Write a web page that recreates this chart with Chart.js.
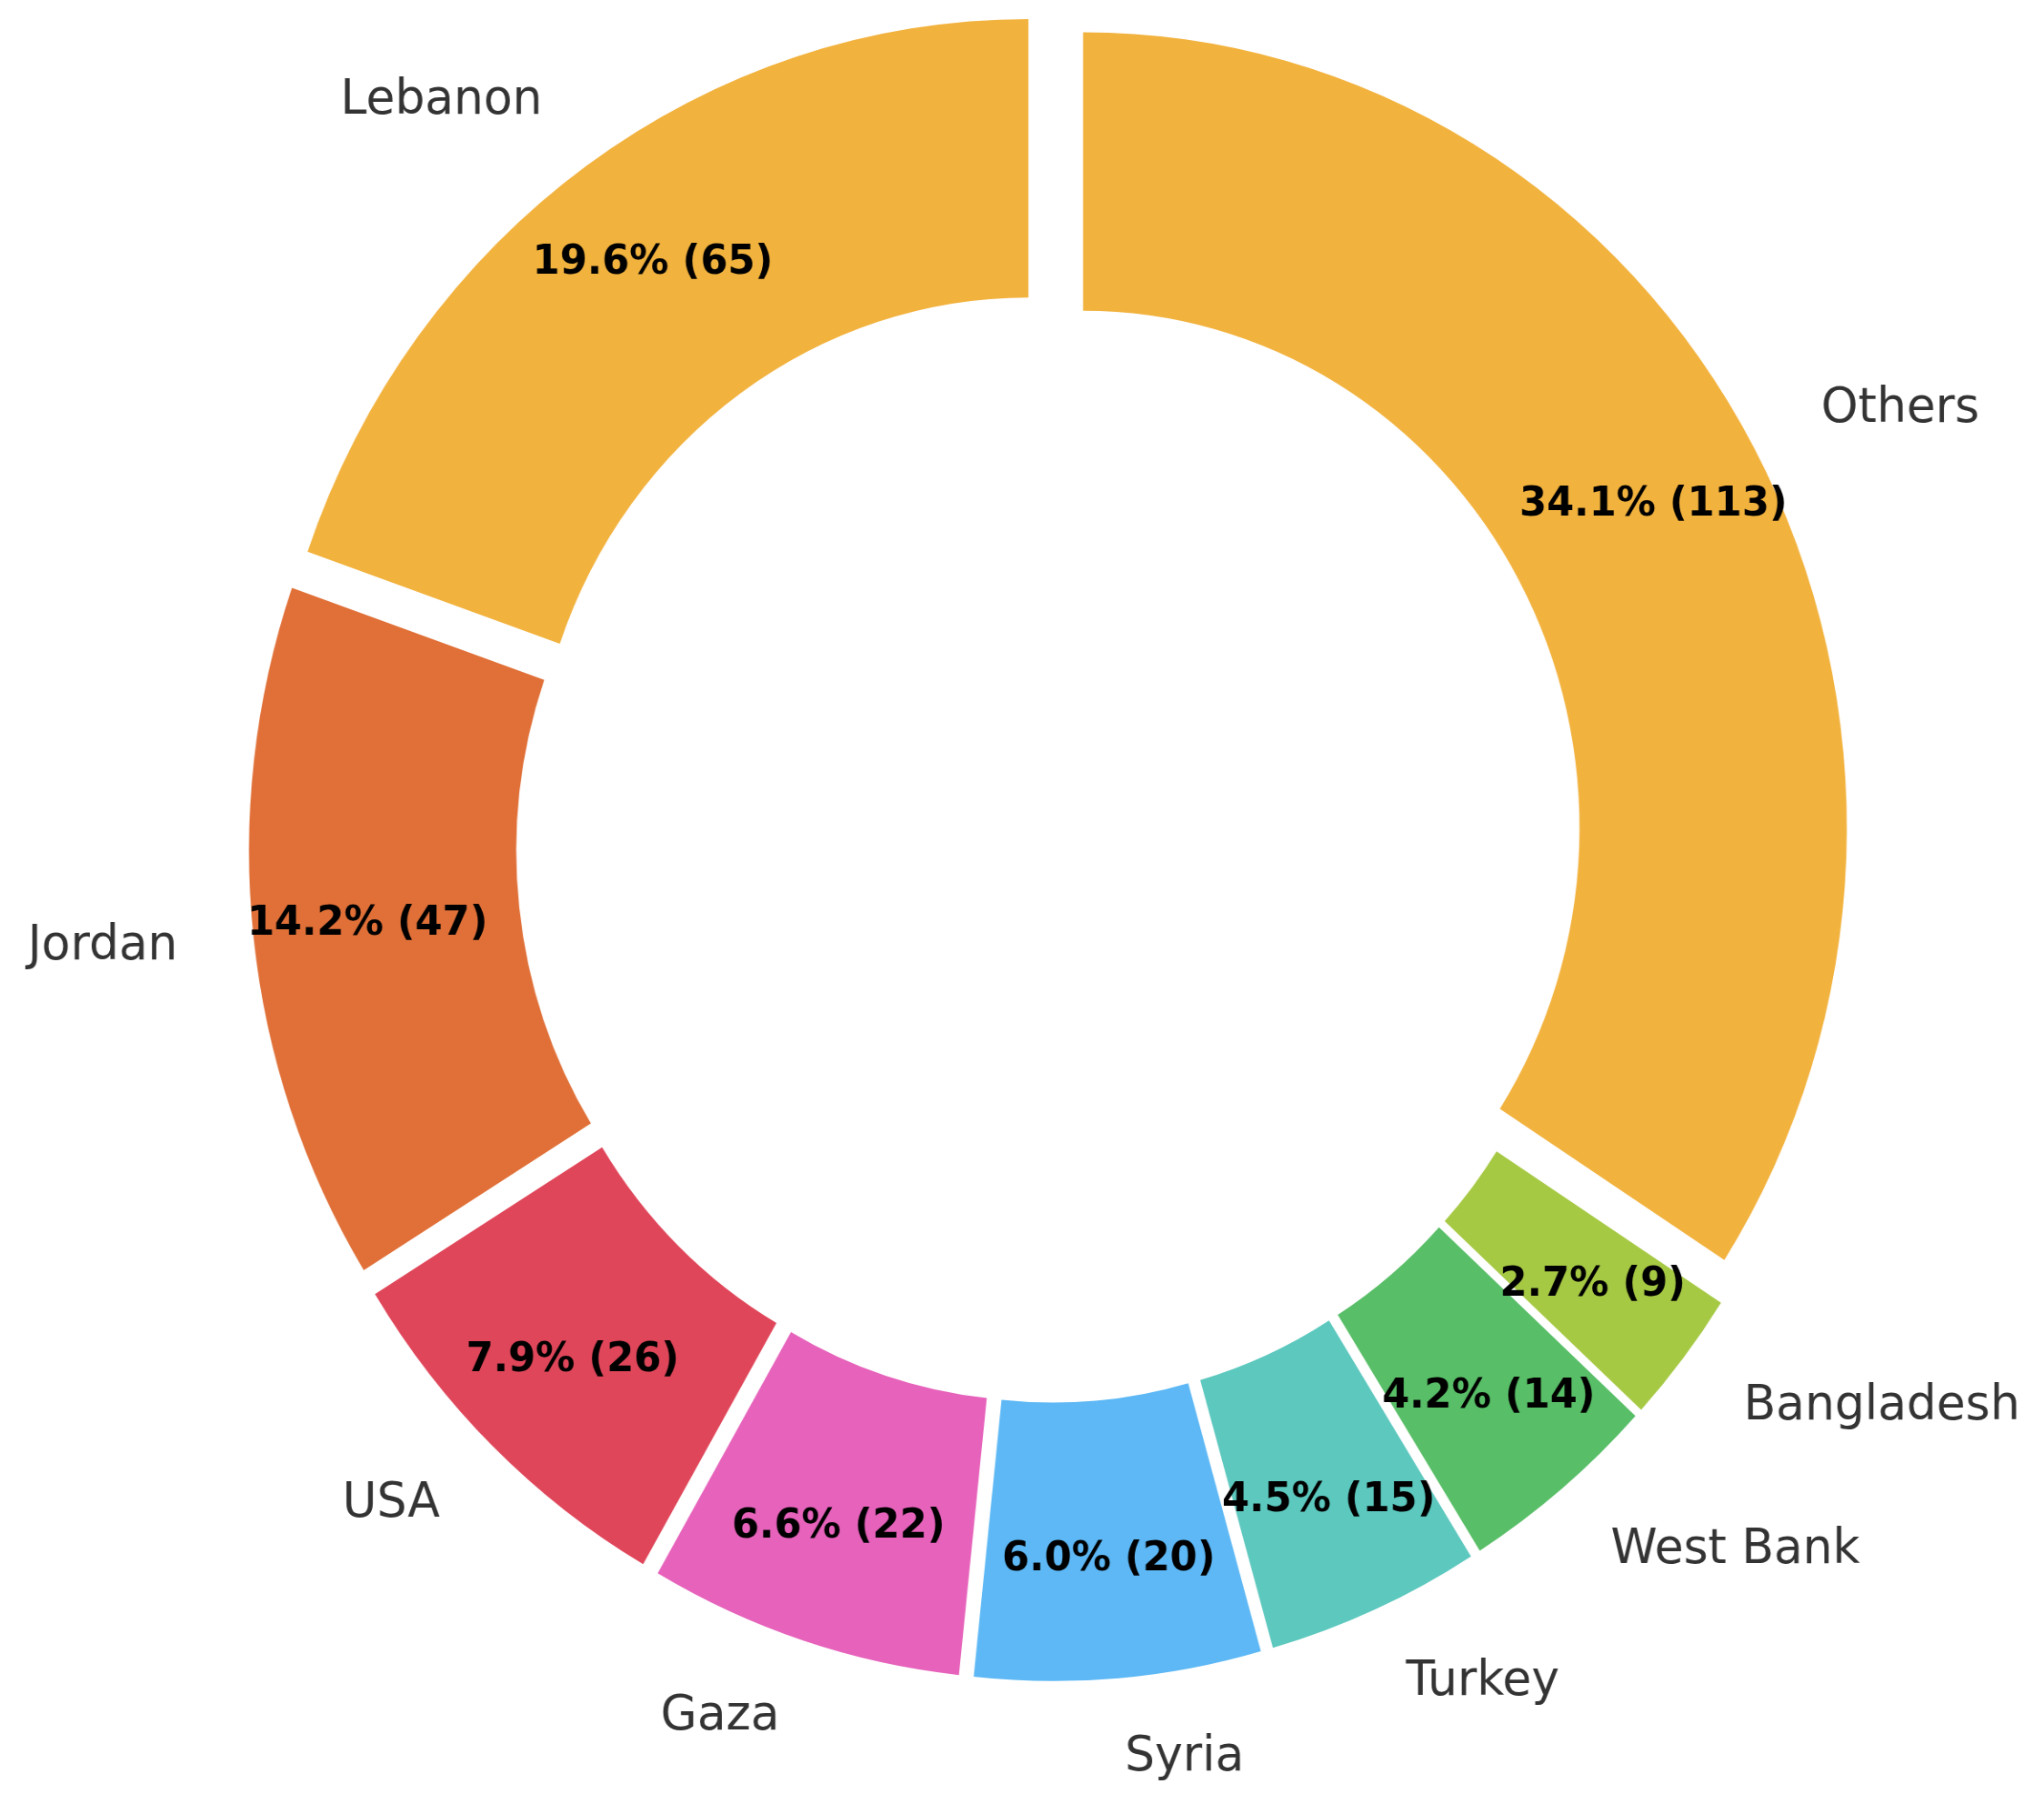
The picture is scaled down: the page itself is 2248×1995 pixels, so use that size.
<!DOCTYPE html>
<html>
<head>
<meta charset="utf-8">
<script src="https://cdn.jsdelivr.net/npm/chart.js@4/dist/chart.umd.min.js"></script>
<style>
  html, body { margin: 0; padding: 0; background: #ffffff; overflow: hidden; }
  #wrap { width: 2342px; height: 1995px; transform: scaleX(0.96); transform-origin: 0 0; }
</style>
</head>
<body>
<div id="wrap"><canvas id="donut" width="2342" height="1995"></canvas></div>
<script>
// matplotlib order (counter-clockwise from 12 o'clock)
const countries = ['Lebanon', 'Jordan', 'USA', 'Gaza', 'Syria', 'Turkey', 'West Bank', 'Bangladesh', 'Others'];
const counts = [65, 47, 26, 22, 20, 15, 14, 9, 113];
const colors = ['#f2b23e', '#e07038', '#e0465a', '#e662bb', '#5db8f5', '#5cc8be', '#58be67', '#a6c944', '#f2b23e'];

// chart.js goes clockwise, so flip the lists
const labelsCW = countries.slice().reverse();
const countsCW = counts.slice().reverse();
const colorsCW = colors.slice().reverse();
const total = counts.reduce((a, b) => a + b, 0);

const EXPLODE = 43;      // px every slice is pushed out
const PCT_DIST = 0.85;   // fraction of outer radius
const LABEL_DIST = 1.1;

//draws each arc shifted out along its middle angle
const explodePlugin = {
    id: 'explode',
    beforeDatasetDraw(chart, args) {
        const ctx = chart.ctx;
        args.meta.data.forEach((arc) => {
            const mid = (arc.startAngle + arc.endAngle) / 2;
            ctx.save();
            ctx.translate(Math.cos(mid) * EXPLODE, Math.sin(mid) * EXPLODE);
            arc.draw(ctx);
            ctx.restore();
        });
        return false;
    }
};

//country names outside + percent labels inside the ring
const sliceLabels = {
    id: 'sliceLabels',
    afterDatasetsDraw(chart) {
        const ctx = chart.ctx;
        const meta = chart.getDatasetMeta(0);
        meta.data.forEach((arc, i) => {
            const mid = (arc.startAngle + arc.endAngle) / 2;
            const c = Math.cos(mid), s = Math.sin(mid);
            const ox = arc.x + c * EXPLODE;
            const oy = arc.y + s * EXPLODE;
            const R = arc.outerRadius;

            ctx.save();
            ctx.textBaseline = 'middle';

            ctx.font = '54px "DejaVu Sans"';
            ctx.fillStyle = '#333333';
            ctx.textAlign = c >= 0 ? 'left' : 'right';
            ctx.fillText(labelsCW[i], ox + c * R * LABEL_DIST, oy + s * R * LABEL_DIST);

            const v = countsCW[i];
            const pct = (v / total * 100).toFixed(1) + '% (' + v + ')';
            ctx.font = 'bold 45px "DejaVu Sans"';
            ctx.fillStyle = '#000000';
            ctx.textAlign = 'center';
            ctx.fillText(pct, ox + c * R * PCT_DIST, oy + s * R * PCT_DIST);
            ctx.restore();
        });
    }
};

const ctx = document.getElementById('donut').getContext('2d');
new Chart(ctx, {
    type: 'doughnut',
    data: {
        labels: labelsCW,
        datasets: [{
            data: countsCW,
            backgroundColor: colorsCW,
            borderWidth: 0
        }]
    },
    options: {
        responsive: false,
        animation: false,
        radius: 875,
        cutout: '65%',
        layout: { padding: { left: 64, right: 0, top: 0, bottom: 133 } },
        plugins: {
            legend: { display: false },
            tooltip: { enabled: false }
        }
    },
    plugins: [explodePlugin, sliceLabels]
});
</script>
</body>
</html>
